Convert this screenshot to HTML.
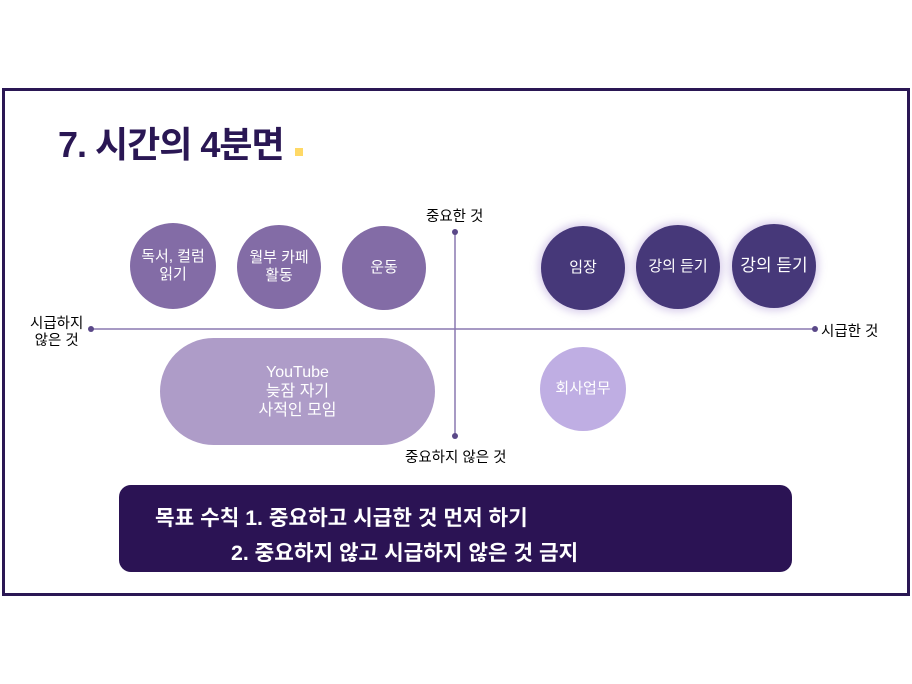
<!DOCTYPE html>
<html><head><meta charset="utf-8"><style>
body{margin:0;width:912px;height:684px;background:#fff;position:relative;overflow:hidden;font-family:"Liberation Sans","Noto Sans CJK KR",sans-serif}
.frame{position:absolute;left:2px;top:88px;width:902px;height:502px;border:3px solid #2a1754}
.t{position:absolute;white-space:nowrap}
.c{position:absolute;border-radius:50%;color:#fff;display:flex;align-items:center;justify-content:center;text-align:center;font-size:15px;line-height:18px}
.m{background:#836ca6}
.d{background:#463879;box-shadow:0 0 8px 3px rgba(150,120,200,.35)}
</style></head><body>
<div class="frame"></div>
<div class="t" style="left:58px;top:116px;font-size:36px;font-weight:bold;color:#2a1754;letter-spacing:-1px">7. 시간의 4분면</div>
<div style="position:absolute;left:295px;top:148px;width:8px;height:8px;background:#ffd966"></div>
<svg style="position:absolute;left:0;top:0" width="912" height="684">
<line x1="91" y1="329" x2="815" y2="329" stroke="#8a78b0" stroke-width="1.5"/>
<line x1="455" y1="232" x2="455" y2="436" stroke="#8a78b0" stroke-width="1.5"/>
<circle cx="91" cy="329" r="3" fill="#5a4888"/><circle cx="815" cy="329" r="3" fill="#5a4888"/>
<circle cx="455" cy="232" r="3" fill="#5a4888"/><circle cx="455" cy="436" r="3" fill="#5a4888"/>
</svg>
<div class="t" style="left:426px;top:205px;font-size:14.5px">중요한 것</div>
<div class="t" style="left:405px;top:446px;font-size:14.5px">중요하지 않은 것</div>
<div class="t" style="left:821px;top:320px;font-size:14.5px">시급한 것</div>
<div class="t" style="left:30px;top:316px;font-size:14.5px;line-height:17px;text-align:center">시급하지<br>않은 것</div>
<div class="c m" style="left:130px;top:223px;width:86px;height:86px">독서, 컬럼<br>읽기</div>
<div class="c m" style="left:237px;top:225px;width:84px;height:84px">월부 카페<br>활동</div>
<div class="c m" style="left:342px;top:226px;width:84px;height:84px">운동</div>
<div class="c d" style="left:541px;top:226px;width:84px;height:84px">임장</div>
<div class="c d" style="left:636px;top:225px;width:84px;height:84px">강의 듣기</div>
<div class="c d" style="left:732px;top:224px;width:84px;height:84px;font-size:17px">강의 듣기</div>
<div class="c" style="left:540px;top:347px;width:86px;height:84px;background:#bfaee3">회사업무</div>
<div class="c" style="left:160px;top:338px;width:275px;height:107px;border-radius:54px;background:#ae9cc8;font-size:16px;line-height:19px">YouTube<br>늦잠 자기<br>사적인 모임</div>
<div style="position:absolute;left:119px;top:485px;width:673px;height:87px;border-radius:12px;background:#2b1354"></div>
<div class="t" style="left:155px;top:501px;font-size:21.3px;font-weight:bold;color:#fff">목표 수칙 1. 중요하고 시급한 것 먼저 하기</div>
<div class="t" style="left:231px;top:536px;font-size:21.3px;font-weight:bold;color:#fff">2. 중요하지 않고 시급하지 않은 것 금지</div>
</body></html>
